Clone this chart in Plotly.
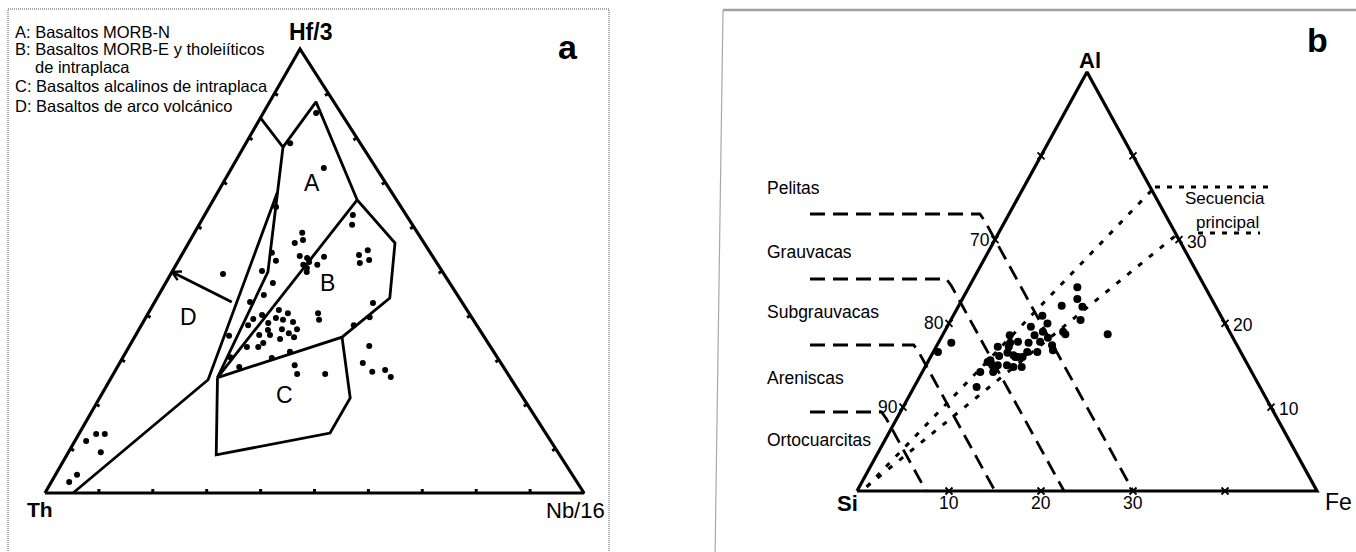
import math
import plotly.graph_objects as go

# ======================= DATA =======================
# Panel a: Wood (1980) Th - Hf/3 - Nb/16 diagram, values in % (Th = 100 - Hf/3 - Nb/16)
a_hf = [85.6, 78.8, 73.2, 64.4, 62.6, 60.4, 58.6, 56.3, 57.0, 54.1, 52.3, 50.0,
        53.4, 52.9, 52.0, 51.4, 50.7, 49.8, 51.4, 53.2, 53.6, 54.7, 51.8, 52.5,
        47.3, 49.3, 44.6, 43.0, 41.2, 40.5, 39.4, 39.0, 38.5, 36.9, 35.1, 36.0,
        36.9, 38.3, 40.1, 39.2, 37.8, 36.7, 35.6, 35.6, 34.7, 33.8, 32.9, 32.9,
        40.5, 39.0, 35.4, 42.8, 39.6, 37.8, 31.8, 30.4, 28.4, 33.1, 28.8, 26.8,
        26.8, 29.3, 27.3, 27.7, 26.1, 13.3, 13.3, 11.7, 9.2, 4.1, 2.5, 30.6]
a_nb = [9.8, 8.2, 17.1, 12.4, 27.5, 28.4, 20.0, 19.7, 20.9, 16.5, 18.1, 16.6,
        22.0, 23.6, 24.4, 23.6, 24.6, 25.0, 26.2, 26.6, 32.9, 34.0, 33.9, 35.3,
        19.9, 9.7, 19.5, 17.7, 23.9, 25.9, 24.2, 25.7, 27.8, 29.3, 29.6, 28.2,
        26.5, 23.3, 21.3, 20.1, 19.8, 24.0, 24.9, 22.9, 27.2, 24.5, 24.0, 21.9,
        31.5, 32.4, 17.4, 40.6, 41.5, 39.4, 30.4, 27.7, 22.6, 44.5, 32.7, 34.1,
        39.3, 45.1, 47.8, 50.0, 51.8, 3.2, 4.8, 2.1, 6.0, 4.0, 3.3, 19.9]

# field boundaries (Hf/3 %, Nb/16 %)
a_outer_hf = [77.9, 88.1, 66.0, 56.3, 43.9, 35.1, 26.0]
a_outer_nb = [7.3, 8.6, 26.7, 38.3, 43.2, 38.5, 19.7]
a_ab_hf = [66.0, 26.0]
a_ab_nb = [26.7, 19.7]
a_c_hf = [35.1, 21.4, 13.5, 8.6, 26.0]
a_c_nb = [38.5, 46.5, 46.5, 27.7, 19.7]
a_j_hf = [84.5, 77.9, 49.8, 26.0]
a_j_nb = [0.0, 7.3, 17.8, 19.7]
a_d_hf = [67.6, 25.5, 0.0]
a_d_nb = [11.1, 18.2, 5.2]
a_arrow_hf = [43.0, 49.8]
a_arrow_nb = [14.3, 0.0]

a_field_names = ["A", "B", "C", "D"]
a_legend = ["A: Basaltos MORB-N",
            "B: Basaltos MORB-E y tholeiíticos",
            "de intraplaca",
            "C: Basaltos alcalinos de intraplaca",
            "D: Basaltos de arco volcánico"]

# Panel b: Si - Al - Fe (sub-triangle Si >= 50), values in %
b_al = [24.3, 22.9, 22.0, 20.4, 22.1, 18.7, 19.0, 20.9, 20.0, 19.6, 19.0, 18.6,
        18.3, 17.8, 17.7, 17.8, 18.6, 17.2, 16.6, 16.6, 16.0, 16.0, 16.0, 16.1,
        17.2, 15.6, 15.0, 15.0, 14.8, 14.8, 14.2, 14.2, 16.6, 17.7, 17.4, 16.8,
        15.4, 15.0, 12.4, 17.7, 16.2, 16.5, 18.7]
b_fe = [11.8, 12.5, 13.5, 14.1, 11.2, 17.9, 12.9, 9.7, 10.7, 9.1, 10.7, 10.0,
        11.6, 11.0, 9.8, 8.6, 7.3, 7.9, 11.3, 10.2, 9.5, 10.0, 9.2, 7.4,
        6.7, 6.7, 8.8, 7.8, 9.6, 10.5, 6.3, 7.7, 0.5, 1.4, 12.5, 12.9,
        6.5, 7.2, 6.8, 7.8, 8.9, 8.1, 13.3]

b_class_si = [70, 77.5, 85, 92.5]
b_class_names = ["Pelitas", "Grauvacas", "Subgrauvacas", "Areniscas", "Ortocuarcitas"]
b_seq_upper_al = [0.5, 35.9]
b_seq_upper_fe = [0.8, 14.1]
b_seq_lower_al = [0.5, 30.5]
b_seq_lower_fe = [0.8, 19.4]
b_left_ticklabels = ["90", "80", "70"]
b_right_ticklabels = ["10", "20", "30"]
b_base_ticklabels = ["10", "20", "30"]

# ======================= LAYOUT GEOMETRY =======================
W, H = 1356, 552
FONT = "Arial, Liberation Sans, Helvetica, sans-serif"
A_TH, A_NB, A_HF = (45, 493), (584, 493), (300, 49)
B_SI, B_AL, B_FE = (857, 491), (1087, 72), (1317, 491)


def pa(hf, nb):
    th = 100 - hf - nb
    return ((th * A_TH[0] + nb * A_NB[0] + hf * A_HF[0]) / 100,
            (th * A_TH[1] + nb * A_NB[1] + hf * A_HF[1]) / 100)


def pb(al, fe):
    return (B_SI[0] + al / 50 * (B_AL[0] - B_SI[0]) + fe / 50 * (B_FE[0] - B_SI[0]),
            B_SI[1] + al / 50 * (B_AL[1] - B_SI[1]) + fe / 50 * (B_FE[1] - B_SI[1]))


fig = go.Figure()


def add_line(pts, width=2.5, dash="solid", color="black"):
    fig.add_trace(go.Scatter(x=[p[0] if p else None for p in pts],
                             y=[p[1] if p else None for p in pts],
                             mode="lines", line=dict(color=color, width=width, dash=dash),
                             hoverinfo="skip", showlegend=False))


# ---------- panel a ----------
add_line([A_TH, A_NB, A_HF, A_TH], width=3.2)
for hf_l, nb_l in [(a_outer_hf, a_outer_nb), (a_ab_hf, a_ab_nb), (a_c_hf, a_c_nb),
                   (a_j_hf, a_j_nb), (a_d_hf, a_d_nb)]:
    add_line([pa(h, n) for h, n in zip(hf_l, nb_l)], width=2.8)

# ticks (inward)
cx = (A_TH[0] + A_NB[0] + A_HF[0]) / 3
cy = (A_TH[1] + A_NB[1] + A_HF[1]) / 3
tick_pts = []
for s, e in [(A_TH, A_NB), (A_NB, A_HF), (A_HF, A_TH)]:
    dx, dy = e[0] - s[0], e[1] - s[1]
    L = (dx * dx + dy * dy) ** 0.5
    nx, ny = -dy / L, dx / L
    mx, my = (s[0] + e[0]) / 2, (s[1] + e[1]) / 2
    if (cx - mx) * nx + (cy - my) * ny < 0:
        nx, ny = -nx, -ny
    for k in range(1, 10):
        px, py = s[0] + dx * k / 10, s[1] + dy * k / 10
        tick_pts += [(px, py), (px + 4 * nx, py + 4 * ny), None]
add_line(tick_pts, width=3)

# arrow
t0 = pa(a_arrow_hf[0], a_arrow_nb[0])
t1 = pa(a_arrow_hf[1], a_arrow_nb[1])
add_line([t0, t1], width=2.8)
ux, uy = t0[0] - t1[0], t0[1] - t1[1]
ul = (ux * ux + uy * uy) ** 0.5
ux, uy = ux / ul, uy / ul
head = []
for ang in (0.5, -0.5):
    c, s_ = math.cos(ang), math.sin(ang)
    hx, hy = ux * c - uy * s_, ux * s_ + uy * c
    head += [t1, (t1[0] + 10 * hx, t1[1] + 10 * hy), None]
add_line(head, width=2.4)

axy = [pa(h, n) for h, n in zip(a_hf, a_nb)]
fig.add_trace(go.Scatter(x=[p[0] for p in axy], y=[p[1] for p in axy], mode="markers",
                         marker=dict(color="black", size=6), hoverinfo="skip", showlegend=False))

# ---------- panel b ----------
add_line([B_SI, B_FE, B_AL, B_SI], width=3.2)

LEADER_Y = [214, 279, 345, 412]
LEADER_X0 = 810
for si, ly in zip(b_class_si, LEADER_Y):
    al_top = (B_SI[1] - (ly + 7)) / (B_SI[1] - B_AL[1]) * 50
    top = pb(al_top, 100 - si - al_top)
    base = pb(0, 100 - si)
    add_line([(LEADER_X0, ly), (top[0] - 5, ly), top, base], width=2.8, dash="15px,8px")

add_line([pb(a, f) for a, f in zip(b_seq_upper_al, b_seq_upper_fe)], width=3, dash="5px,9px")
add_line([pb(a, f) for a, f in zip(b_seq_lower_al, b_seq_lower_fe)], width=3, dash="5px,9px")
# bracket around label
add_line([(1155, 187), (1268, 187), None, (1198, 233), (1260, 233)], width=3, dash="5px,7px")

# ticks
bt = []
for k in range(1, 5):
    bt += [pb(0, 10 * k), pb(10 * k, 0), pb(10 * k, 50 - 10 * k)]
fig.add_trace(go.Scatter(x=[p[0] for p in bt], y=[p[1] for p in bt], mode="markers",
                         marker=dict(symbol="x-thin", size=7, line=dict(color="black", width=1.8)),
                         hoverinfo="skip", showlegend=False))

bxy = [pb(a, f) for a, f in zip(b_al, b_fe)]
fig.add_trace(go.Scatter(x=[p[0] for p in bxy], y=[p[1] for p in bxy], mode="markers",
                         marker=dict(color="black", size=8), hoverinfo="skip", showlegend=False))

# ======================= TEXT =======================
ann = []


def txt(x, y, s, size, bold=False, xa="center", ya="middle"):
    ann.append(dict(x=x, y=y, xref="x", yref="y", text=("<b>%s</b>" % s) if bold else s,
                    showarrow=False, xanchor=xa, yanchor=ya,
                    font=dict(family=FONT, size=size, color="black")))


# panel a
txt(310, 32, "Hf/3", 23, True)
txt(40, 509, "Th", 21, True)
txt(575, 510, "Nb/16", 22)
txt(568, 47, "a", 34, True)
for name, (x, y) in zip(a_field_names, [(312, 183), (327, 283), (284, 395), (188, 317)]):
    txt(x, y, name, 23)
for line, (x, y) in zip(a_legend, [(13, 32), (13, 49), (33, 67), (13, 86), (13, 106)]):
    txt(x, y, line, 16.5, xa="left")

# panel b
txt(1090, 60, "Al", 22, True)
txt(847, 503, "Si", 22, True)
txt(1338, 502, "Fe", 23)
txt(1317, 40, "b", 34, True)
for name, y in zip(b_class_names, [188, 252, 312, 378, 440]):
    txt(765, y, name, 17.5, xa="left")
txt(1225, 198, "Secuencia", 17)
txt(1227, 222, "principal", 17)
for k, lab in enumerate(b_left_ticklabels, start=1):
    p = pb(10 * k, 0)
    txt(p[0] - 3, p[1], lab, 17.5, xa="right")
for k, lab in enumerate(b_right_ticklabels, start=1):
    p = pb(10 * k, 50 - 10 * k)
    txt(p[0] + 6, p[1] + 2, lab, 17.5, xa="left")
for k, lab in enumerate(b_base_ticklabels, start=1):
    p = pb(0, 10 * k)
    txt(p[0], p[1] + 12, lab, 17.5)

shapes = [
    dict(type="rect", xref="x", yref="y", x0=8, y0=9, x1=609, y1=600,
         line=dict(color="#555555", width=1, dash="1px,1px")),
    dict(type="line", xref="x", yref="y", x0=723, y0=10, x1=1360, y1=10,
         line=dict(color="#a0a0a0", width=2.5)),
    dict(type="line", xref="x", yref="y", x0=723, y0=10, x1=715, y1=560,
         line=dict(color="#a8a8a8", width=1.2)),
]

fig.update_layout(
    width=W, height=H, margin=dict(l=0, r=0, t=0, b=0),
    paper_bgcolor="white", plot_bgcolor="white",
    xaxis=dict(range=[0, W], visible=False, fixedrange=True),
    yaxis=dict(range=[H, 0], visible=False, fixedrange=True),
    annotations=ann, shapes=shapes, hovermode=False, showlegend=False,
)

fig.write_html("out.html", config={"displayModeBar": False},
               post_script="document.body.style.margin='0';document.body.style.overflow='hidden';")
